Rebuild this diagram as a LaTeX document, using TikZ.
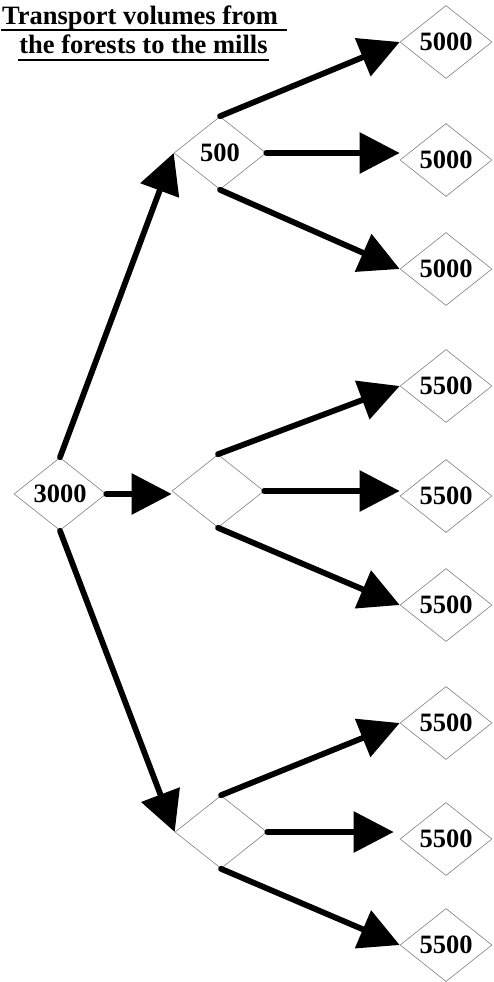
\documentclass[tikz,border=0pt]{standalone}
\usepackage{fontspec}
\setmainfont{Liberation Serif}
\usetikzlibrary{shapes.geometric,arrows.meta}
\tikzset{
  dia/.style={draw=black!50, line width=0.6pt, shape=diamond, inner sep=0pt,
    minimum width=92pt, minimum height=73pt, shape aspect=1.26,
    font=\bfseries\fontsize{26.5}{30}\selectfont},
  flow/.style={line width=5.8pt, line cap=round, -{Triangle[length=40pt,width=40pt]}},
  ttl/.style={anchor=base, inner sep=0pt, font=\bfseries\fontsize{26.5}{30}\selectfont},
  uline/.style={line width=2.5pt}
}
\begin{document}
\begin{tikzpicture}[x=1pt,y=-1pt]
\useasboundingbox (0,0) rectangle (493,982);
% title
\node[ttl] (t1) at (140,25) {Transport volumes from};
\node[ttl] (t2) at (143.5,53) {the forests to the mills};
\draw[uline] ([xshift=-1pt,yshift=-5pt]t1.base west) -- ([xshift=9pt,yshift=-5pt]t1.base east);
\draw[uline] ([xshift=-1pt,yshift=-7pt]t2.base west) -- ([xshift=1pt,yshift=-7pt]t2.base east);
% nodes
\node[dia] (r) at (60,494) {3000};
\node[dia] (a) at (220,153) {500};
\node[dia] (b) at (218,491) {};
\node[dia] (c) at (221,832) {};
\node[dia] (l1) at (446,42) {5000};
\node[dia] (l2) at (446,160) {5000};
\node[dia] (l3) at (446,269) {5000};
\node[dia] (l4) at (446,386) {5500};
\node[dia] (l5) at (446,496) {5500};
\node[dia] (l6) at (446,605) {5500};
\node[dia] (l7) at (446,723) {5500};
\node[dia] (l8) at (446,839) {5500};
\node[dia] (l9) at (446,945) {5500};
% arrows
\draw[flow] (r.north) -- (a.west);
\draw[flow] (r.east) -- (r.east -| b.west);
\draw[flow] (r.south) -- (c.west);
\draw[flow] (a.north) -- (l1.west);
\draw[flow] (a.east) -- (a.east -| l2.west);
\draw[flow] (a.south) -- (l3.west);
\draw[flow] (b.north) -- (l4.west);
\draw[flow] (b.east) -- (b.east -| l5.west);
\draw[flow] (b.south) -- (l6.west);
\draw[flow] (c.north) -- (l7.west);
\draw[flow] (c.east) -- ([xshift=-6pt]c.east -| l8.west);
\draw[flow] (c.south) -- (l9.west);
\end{tikzpicture}
\end{document}
